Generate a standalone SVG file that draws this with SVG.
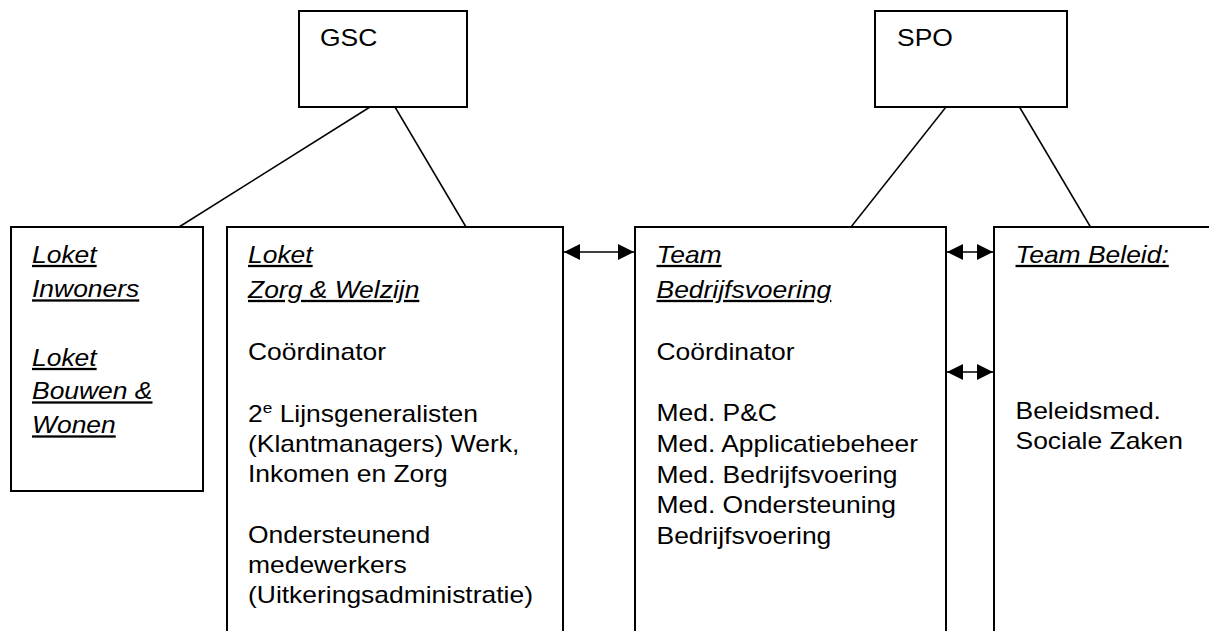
<svg xmlns="http://www.w3.org/2000/svg" width="1209" height="631" viewBox="0 0 1209 631">
<style>
.box{fill:#fff;stroke:#000;stroke-width:2}
.ln{stroke:#000;stroke-width:1.5;fill:none}
.t{font-family:"Liberation Sans",Arial,sans-serif;font-size:23px;fill:#000}
.h{font-style:italic;text-decoration:underline}
</style>
<defs>
<marker id="ah" markerUnits="userSpaceOnUse" markerWidth="16" markerHeight="16" refX="16" refY="8" orient="auto-start-reverse">
<path d="M0,0 L16,8 L0,16 Z" fill="#000"/>
</marker>
</defs>
<g id="connectors">
<line class="ln" x1="370" y1="107" x2="179" y2="227"/>
<line class="ln" x1="395" y1="107" x2="466" y2="227"/>
<line class="ln" x1="946" y1="107" x2="851" y2="227"/>
<line class="ln" x1="1019.5" y1="107" x2="1090.5" y2="227"/>
<line class="ln" x1="564" y1="252" x2="634" y2="252" marker-start="url(#ah)" marker-end="url(#ah)"/>
<line class="ln" x1="947" y1="252" x2="993" y2="252" marker-start="url(#ah)" marker-end="url(#ah)"/>
<line class="ln" x1="947" y1="372" x2="993" y2="372" marker-start="url(#ah)" marker-end="url(#ah)"/>
</g>
<g id="gsc">
<rect class="box" x="299" y="11" width="168" height="96"/>
<g transform="translate(320,0) scale(1.15,1)"><text class="t" x="0" y="46">GSC</text></g>
</g>
<g id="spo">
<rect class="box" x="875" y="11" width="192" height="96"/>
<g transform="translate(897,0) scale(1.15,1)"><text class="t" x="0" y="46">SPO</text></g>
</g>
<g id="loket-inwoners">
<rect class="box" x="11" y="227" width="192" height="264"/>
<g transform="translate(32,0) scale(1.15,1)">
<text class="t h" x="0" y="263">Loket</text>
<text class="t h" x="0" y="297.5">Inwoners</text>
<text class="t h" x="0" y="366">Loket</text>
<text class="t h" x="0" y="399.5">Bouwen &amp;</text>
<text class="t h" x="0" y="433.5">Wonen</text>
</g>
</g>
<g id="loket-zorg">
<rect class="box" x="227" y="227" width="336" height="420"/>
<g transform="translate(248,0) scale(1.15,1)">
<text class="t h" x="0" y="263">Loket</text>
<text class="t h" x="0" y="298">Zorg &amp; Welzijn</text>
<text class="t" x="0" y="360">Coördinator</text>
<text class="t" x="0" y="422">2<tspan font-size="15" dy="-9">e</tspan><tspan dy="9"> Lijnsgeneralisten</tspan></text>
<text class="t" x="0" y="452">(Klantmanagers) Werk,</text>
<text class="t" x="0" y="482">Inkomen en Zorg</text>
<text class="t" x="0" y="543">Ondersteunend</text>
<text class="t" x="0" y="573">medewerkers</text>
<text class="t" x="0" y="603">(Uitkeringsadministratie)</text>
</g>
</g>
<g id="team-bedrijfsvoering">
<rect class="box" x="635" y="227" width="311" height="420"/>
<g transform="translate(656.5,0) scale(1.15,1)">
<text class="t h" x="0" y="263">Team</text>
<text class="t h" x="0" y="298">Bedrijfsvoering</text>
<text class="t" x="0" y="360">Coördinator</text>
<text class="t" x="0" y="421.5">Med. P&amp;C</text>
<text class="t" x="0" y="452">Med. Applicatiebeheer</text>
<text class="t" x="0" y="483">Med. Bedrijfsvoering</text>
<text class="t" x="0" y="513">Med. Ondersteuning</text>
<text class="t" x="0" y="544">Bedrijfsvoering</text>
</g>
</g>
<g id="team-beleid">
<rect class="box" x="994" y="227" width="300" height="420"/>
<g transform="translate(1015.5,0) scale(1.15,1)">
<text class="t h" x="0" y="263">Team Beleid:</text>
<text class="t" x="0" y="419">Beleidsmed.</text>
<text class="t" x="0" y="449">Sociale Zaken</text>
</g>
</g>
</svg>
